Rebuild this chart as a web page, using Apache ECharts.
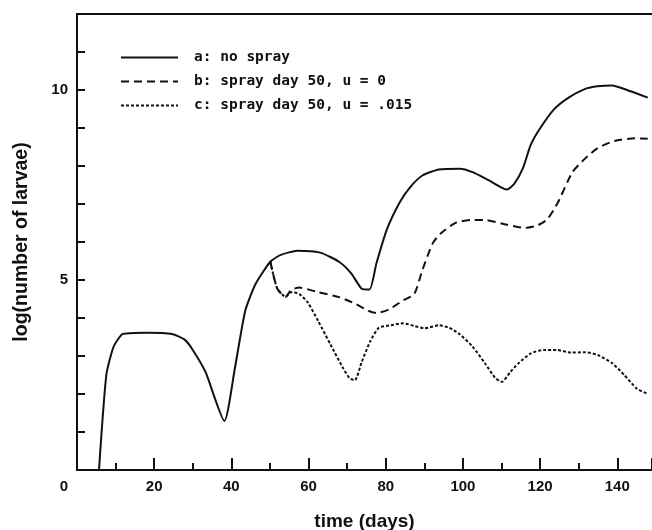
<!DOCTYPE html>
<html>
<head>
<meta charset="utf-8">
<script src="https://cdn.jsdelivr.net/npm/echarts@6/dist/echarts.min.js"></script>
<style>html,body{margin:0;padding:0;background:#fff}#c{width:652px;height:530px}</style>
</head>
<body>
<div id="c"></div>
<script>
// Series names
var seriesNames = ['a: no spray', 'b: spray day 50, u = 0', 'c: spray day 50, u = .015'];
// Curve a: no spray
var aDays = [5.7, 7.6, 9.5, 11.7, 13.8, 18, 24.6, 27.9, 30, 33.3, 38.2, 40.9, 43.6, 46.3, 50.1, 52.8, 57.1, 63, 67.9, 71.1, 73.8, 75.8, 77.6, 80.3, 83.6, 86.3, 89.5, 93.8, 99.2, 102.5, 106.8, 111.4, 113.3, 115.5, 117.6, 119.8, 123.6, 127.4, 131.7, 134.9, 138.7, 142.5, 147.9];
var aVals = [0, 2.5, 3.25, 3.57, 3.6, 3.61, 3.58, 3.43, 3.16, 2.58, 1.29, 2.67, 4.19, 4.9, 5.48, 5.66, 5.77, 5.72, 5.48, 5.17, 4.77, 4.75, 5.44, 6.33, 7.04, 7.44, 7.75, 7.91, 7.93, 7.84, 7.62, 7.38, 7.53, 7.93, 8.56, 8.96, 9.49, 9.8, 10.03, 10.1, 10.12, 10.0, 9.8];
// Curve b: spray day 50, u = 0
var bDays = [50.1, 51.9, 54.1, 55.5, 57.6, 62.5, 67.9, 72.2, 75.5, 77.6, 80.9, 84.6, 87.4, 89.5, 92.2, 94.4, 98.2, 102.5, 105.7, 111.1, 116, 119.2, 121.9, 124.6, 128.4, 131.7, 134.9, 139.3, 144.6, 147.9];
var bVals = [5.48, 4.77, 4.56, 4.74, 4.8, 4.68, 4.55, 4.37, 4.19, 4.13, 4.23, 4.47, 4.63, 5.26, 5.97, 6.24, 6.51, 6.58, 6.58, 6.46, 6.37, 6.43, 6.6, 7.04, 7.84, 8.2, 8.47, 8.66, 8.73, 8.72];
// Curve c: spray day 50, u = .015
var cDays = [50.1, 51.9, 54.1, 55.5, 57.6, 59.8, 62.5, 65.7, 69, 70.6, 72, 73.8, 76, 78.2, 81.4, 84.6, 87.4, 90.1, 93.8, 96.5, 99.2, 102.5, 105.7, 108.4, 110.1, 112.3, 114.4, 117.6, 120.9, 124.2, 128, 131.7, 134.9, 138.7, 141.8, 145.1, 147.9];
var cVals = [5.48, 4.77, 4.56, 4.68, 4.63, 4.41, 3.92, 3.3, 2.67, 2.42, 2.36, 2.85, 3.39, 3.74, 3.81, 3.86, 3.79, 3.73, 3.81, 3.74, 3.57, 3.25, 2.81, 2.42, 2.32, 2.58, 2.81, 3.07, 3.16, 3.16, 3.09, 3.1, 3.03, 2.81, 2.5, 2.14, 2.0];
// Tick labels
var yLabelValues = [5, 10];

function pairs(xs, ys) { return xs.map(function (x, i) { return [x, ys[i]]; }); }

var ink = '#111';
var chart = echarts.init(document.getElementById('c'));
chart.setOption({
  animation: false,
  backgroundColor: '#fff',
  grid: { left: 77, right: 0, top: 14, bottom: 60, containLabel: false, outerBoundsMode: 'none' },
  legend: {
    orient: 'vertical', left: 115, top: 45,
    itemWidth: 57, itemHeight: 14, itemGap: 9,
    data: seriesNames,
    itemStyle: { opacity: 0 },
    textStyle: { fontFamily: 'DejaVu Sans Mono', fontWeight: 'bold', fontSize: 14.5, color: ink, padding: [0, 0, 0, 11] }
  },
  xAxis: [{
    type: 'value', min: 0, max: 149, interval: 20,
    name: 'time (days)', nameLocation: 'middle', nameGap: 42,
    nameTextStyle: { fontFamily: 'Liberation Sans', fontWeight: 'bold', fontSize: 19, color: ink },
    splitLine: { show: false },
    axisLine: { lineStyle: { color: ink, width: 2 } },
    axisTick: { inside: true, length: 12, lineStyle: { color: ink, width: 2 } },
    minorTick: { show: true, splitNumber: 2, length: 7, lineStyle: { color: ink, width: 2 } },
    axisLabel: {
      margin: 9, fontFamily: 'Liberation Sans', fontWeight: 'bold', fontSize: 15, color: ink,
      showMaxLabel: false,
      formatter: function (v) { return v === 0 ? '{z|0}' : String(v); },
      rich: { z: { fontFamily: 'Liberation Sans', fontWeight: 'bold', fontSize: 15, color: ink, padding: [0, 26, 0, 0] } }
    }
  }, {
    type: 'value', position: 'top', min: 0, max: 149,
    axisLine: { show: true, onZero: false, lineStyle: { color: ink, width: 2 } },
    axisTick: { show: false }, axisLabel: { show: false }, splitLine: { show: false }
  }],
  yAxis: {
    type: 'value', min: 0, max: 12, interval: 1,
    name: 'log(number of larvae)', nameLocation: 'middle', nameGap: 45, nameRotate: 90,
    nameTextStyle: { fontFamily: 'Liberation Sans', fontWeight: 'bold', fontSize: 19.5, color: ink },
    splitLine: { show: false },
    axisLine: { show: true, lineStyle: { color: ink, width: 2 } },
    axisTick: { inside: true, length: 8, lineStyle: { color: ink, width: 2 } },
    axisLabel: {
      customValues: yLabelValues, margin: 9,
      fontFamily: 'Liberation Sans', fontWeight: 'bold', fontSize: 15, color: ink
    }
  },
  series: [
    { name: seriesNames[0], type: 'line', data: pairs(aDays, aVals), symbol: 'none', smooth: 0.2,
      lineStyle: { color: ink, width: 2, type: 'solid' }, itemStyle: { color: ink } },
    { name: seriesNames[1], type: 'line', data: pairs(bDays, bVals), symbol: 'none', smooth: 0.2,
      lineStyle: { color: ink, width: 2, type: [8, 5] }, itemStyle: { color: ink } },
    { name: seriesNames[2], type: 'line', data: pairs(cDays, cVals), symbol: 'none', smooth: 0.2,
      lineStyle: { color: ink, width: 2, type: [3, 2] }, itemStyle: { color: ink } }
  ]
});
</script>
</body>
</html>
